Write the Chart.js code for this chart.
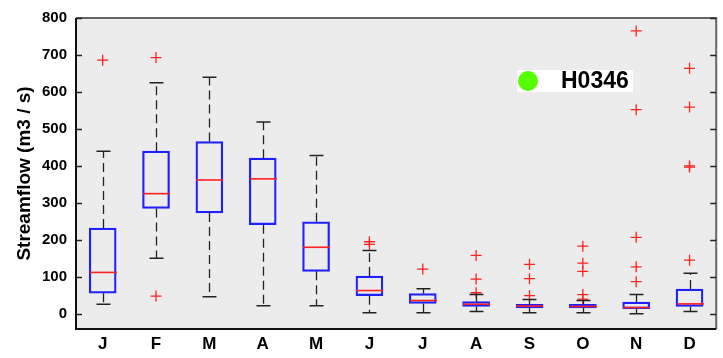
<!DOCTYPE html>
<html>
<head>
<meta charset="utf-8">
<script src="https://cdn.jsdelivr.net/npm/chart.js@4.4.1/dist/chart.umd.min.js"></script>
<style>
  html, body { margin: 0; padding: 0; background: #fff; }
  #wrap { width: 723px; height: 358px; }
</style>
</head>
<body>
<div id="wrap"><canvas id="chart" width="723" height="358"></canvas></div>
<script>
// Monthly streamflow boxplot, station H0346
const months = ['J', 'F', 'M', 'A', 'M', 'J', 'J', 'A', 'S', 'O', 'N', 'D'];
const lowerWhisker = [26, 150, 46, 22, 22, 3, 3, 6, 3, 3, 0, 6];
const q1 = [56, 285, 273, 241, 115, 49, 28, 20, 16, 16, 14, 20];
const median = [112, 325, 362, 365, 180, 63, 36, 26, 21, 20, 17, 27];
const q3 = [232, 440, 466, 421, 249, 102, 55, 33, 26, 26, 32, 67];
const upperWhisker = [440, 625, 640, 519, 428, 171, 68, 52, 39, 36, 52, 110];
const outliers = [
    [686], [693, 48], [], [], [], [195, 188], [121],
    [158, 94, 57], [134, 95, 49], [183, 137, 115, 52, 40],
    [765, 552, 207, 127, 87], [664, 559, 400, 397, 145]
];
const yTicks = [0, 100, 200, 300, 400, 500, 600, 700, 800];
const stationName = 'H0346';

const FONT = "'Liberation Sans', Arial, sans-serif";

const boxData = months.map((m, i) => ({ x: i, y: [q1[i], q3[i]] }));
const outlierPoints = [];
outliers.forEach((list, i) => list.forEach(v => outlierPoints.push({ x: i, y: v })));

// background, whiskers, medians, frame and legend box
const boxPlugin = {
    id: 'boxExtras',
    beforeDatasetsDraw(chart) {
        const { ctx, chartArea: a } = chart;
        ctx.save();
        ctx.fillStyle = '#ececec';
        ctx.fillRect(a.left, a.top, a.right - a.left, a.bottom - a.top);
        ctx.restore();
    },
    afterDatasetsDraw(chart) {
        const { ctx, scales } = chart;
        const xs = scales.x, ys = scales.y;
        const half = 13.5;
        const cap = 7;
        ctx.save();
        months.forEach((m, i) => {
            const x = Math.round(xs.getPixelForValue(i)) + 0.5;
            // dashed whiskers
            ctx.strokeStyle = '#222';
            ctx.lineWidth = 1.3;
            ctx.setLineDash([9, 5]);
            ctx.beginPath();
            ctx.moveTo(x, ys.getPixelForValue(q3[i]));
            ctx.lineTo(x, ys.getPixelForValue(upperWhisker[i]));
            ctx.moveTo(x, ys.getPixelForValue(q1[i]));
            ctx.lineTo(x, ys.getPixelForValue(lowerWhisker[i]));
            ctx.stroke();
            // caps
            ctx.setLineDash([]);
            ctx.lineWidth = 1.5;
            ctx.beginPath();
            const yu = ys.getPixelForValue(upperWhisker[i]);
            const yl = ys.getPixelForValue(lowerWhisker[i]);
            ctx.moveTo(x - cap, yu); ctx.lineTo(x + cap, yu);
            ctx.moveTo(x - cap, yl); ctx.lineTo(x + cap, yl);
            ctx.stroke();
            // median
            ctx.strokeStyle = '#ff2020';
            ctx.lineWidth = 1.6;
            const ym = ys.getPixelForValue(median[i]);
            ctx.beginPath();
            ctx.moveTo(x - half, ym); ctx.lineTo(x + half, ym);
            ctx.stroke();
        });
        ctx.restore();
    },
    afterDraw(chart) {
        const { ctx, chartArea: a, scales } = chart;
        const ys = scales.y;
        ctx.save();
        // frame
        ctx.strokeStyle = '#666';
        ctx.lineWidth = 2;
        ctx.beginPath();
        ctx.moveTo(a.left, a.top); ctx.lineTo(a.right, a.top); ctx.lineTo(a.right, a.bottom);
        ctx.stroke();
        ctx.strokeStyle = '#111';
        ctx.beginPath();
        ctx.moveTo(a.left, a.top); ctx.lineTo(a.left, a.bottom); ctx.lineTo(a.right, a.bottom);
        ctx.stroke();
        // inward ticks both sides
        ctx.lineWidth = 1.5;
        ctx.strokeStyle = '#222';
        ctx.beginPath();
        yTicks.forEach(v => {
            const y = Math.round(ys.getPixelForValue(v)) + 0.5;
            ctx.moveTo(a.left, y); ctx.lineTo(a.left + 6, y);
            ctx.moveTo(a.right, y); ctx.lineTo(a.right - 6, y);
        });
        ctx.stroke();
        // station label box
        const bx = a.left + 441, by = a.top + 52;
        ctx.fillStyle = '#ffffff';
        ctx.fillRect(bx, by, 116, 22);
        ctx.fillStyle = '#55ff00';
        ctx.beginPath();
        ctx.arc(bx + 11, by + 11, 10, 0, Math.PI * 2);
        ctx.fill();
        ctx.fillStyle = '#000';
        ctx.font = 'bold 23px ' + FONT;
        ctx.textBaseline = 'middle';
        ctx.textAlign = 'left';
        ctx.fillText(stationName, bx + 44, by + 12);
        ctx.restore();
    }
};

new Chart(document.getElementById('chart'), {
    data: {
        datasets: [
            {
                type: 'bar',
                data: boxData,
                backgroundColor: 'rgba(0,0,0,0)',
                borderColor: '#2020ff',
                borderWidth: 1.6,
                borderSkipped: false,
                barThickness: 27
            },
            {
                type: 'scatter',
                data: outlierPoints,
                pointStyle: 'cross',
                pointRadius: 5.5,
                borderColor: '#ff2020',
                borderWidth: 1.3,
                backgroundColor: '#ff2020'
            }
        ]
    },
    options: {
        responsive: false,
        animation: false,
        layout: { padding: { top: 14, right: 1, left: 0, bottom: 0 } },
        plugins: { legend: { display: false }, tooltip: { enabled: false } },
        scales: {
            x: {
                type: 'linear',
                offset: false,
                min: -0.5,
                max: months.length - 0.5,
                grid: { display: false, drawTicks: false },
                border: { display: false },
                afterBuildTicks(s) { s.ticks = months.map((m, i) => ({ value: i })); },
                ticks: {
                    color: '#000',
                    font: { family: FONT, size: 17, weight: 'bold' },
                    padding: 5,
                    autoSkip: false,
                    maxRotation: 0,
                    callback: (v) => months[v]
                },
                afterFit(s) { s.height = 29; }
            },
            y: {
                min: -41,
                max: 800,
                grid: { display: false, drawTicks: false },
                border: { display: false },
                afterBuildTicks(s) { s.ticks = yTicks.map(v => ({ value: v })); },
                ticks: { color: '#000', font: { family: FONT, size: 15, weight: 'bold' }, padding: 9 },
                title: {
                    display: true,
                    text: 'Streamflow (m3 / s)',
                    color: '#000',
                    font: { family: FONT, size: 19, weight: 'bold' },
                    padding: { top: 13, bottom: 0 }
                },
                afterFit(s) { s.width = 76; }
            }
        }
    },
    plugins: [boxPlugin]
});
</script>
</body>
</html>
